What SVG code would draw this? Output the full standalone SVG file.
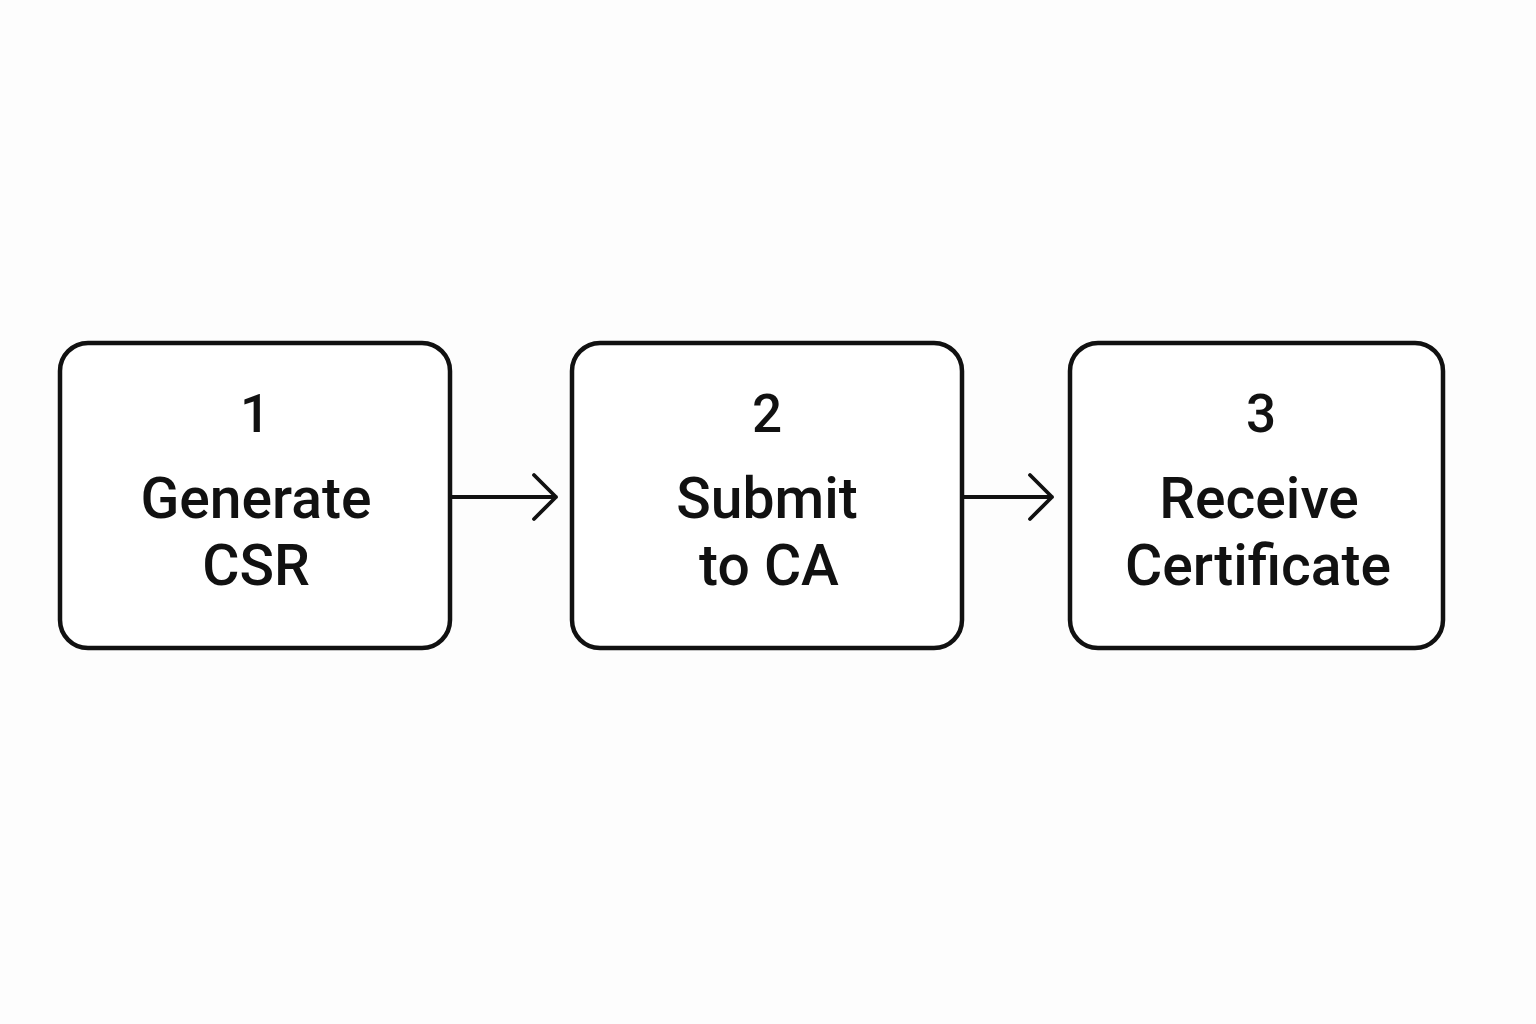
<svg xmlns="http://www.w3.org/2000/svg" width="1536" height="1024" viewBox="0 0 1536 1024">
<style>
.box{fill:#ffffff;stroke:#111111;stroke-width:4.5}
.num{font-family:Roboto,"Liberation Sans",Arial,sans-serif;font-weight:500;font-size:53px;fill:#111111;text-anchor:middle}
.lbl{font-family:Roboto,"Liberation Sans",Arial,sans-serif;font-weight:500;font-size:57px;fill:#111111;text-anchor:middle}
.conn{fill:none;stroke:#111111;stroke-width:3.8;stroke-linecap:round;stroke-linejoin:round}
</style>
<rect x="0" y="0" width="1536" height="1024" fill="#fdfdfd"/>
<g id="node1">
<rect class="box" x="60" y="343" width="390" height="305" rx="28"/>
<text class="num" x="255" y="432">1</text>
<text class="lbl" x="256" y="518">Generate</text>
<text class="lbl" x="256" y="585">CSR</text>
</g>
<g id="node2">
<rect class="box" x="572" y="343" width="390" height="305" rx="28"/>
<text class="num" x="767" y="432">2</text>
<text class="lbl" x="767" y="518">Submit</text>
<text class="lbl" x="769" y="585">to CA</text>
</g>
<g id="node3">
<rect class="box" x="1070" y="343" width="373" height="305" rx="28"/>
<text class="num" x="1261" y="432">3</text>
<text class="lbl" x="1259" y="518">Receive</text>
<text class="lbl" x="1258" y="585">Certificate</text>
</g>
<g id="connectors">
<path class="conn" d="M452 497 H556 M534 475 L556 497 L534 519"/>
<path class="conn" d="M964 497 H1052 M1030 475 L1052 497 L1030 519"/>
</g>
</svg>
